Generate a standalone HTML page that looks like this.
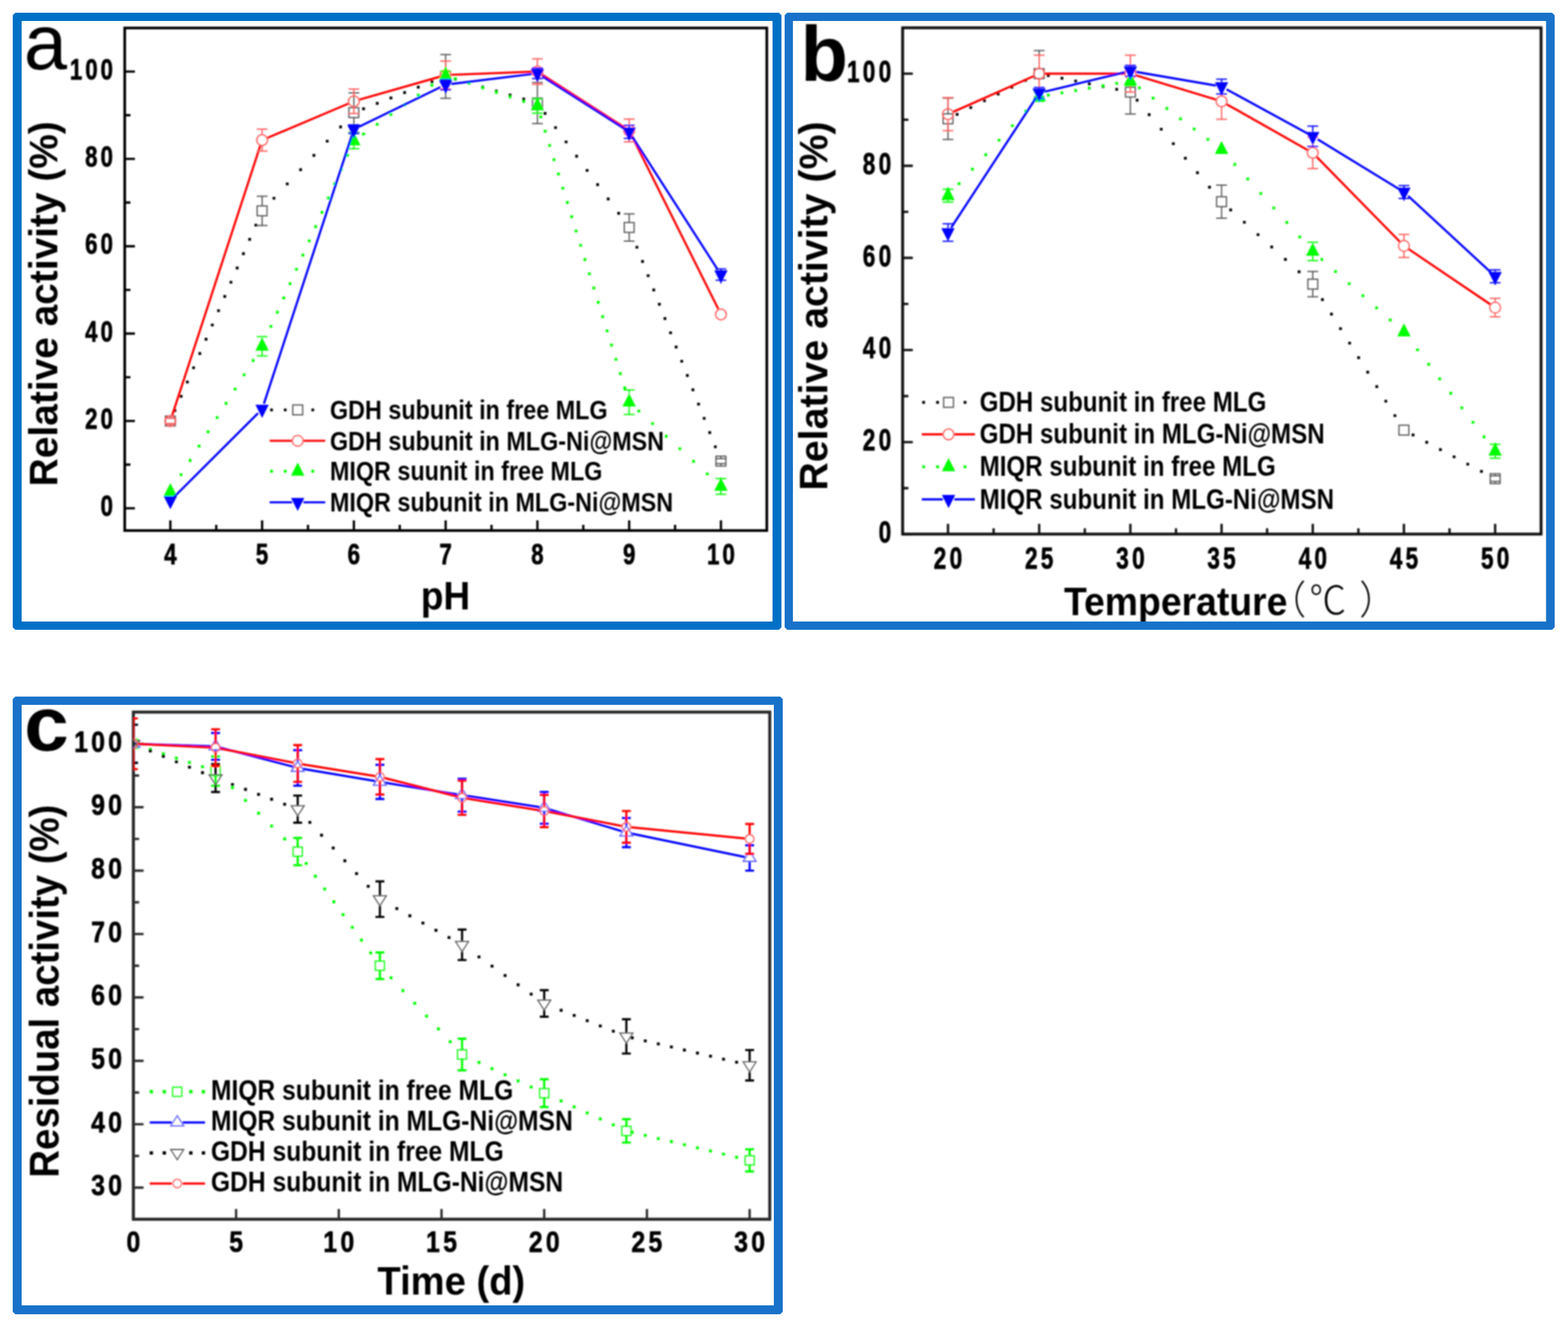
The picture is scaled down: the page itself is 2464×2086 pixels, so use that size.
<!DOCTYPE html>
<html lang="en"><head><meta charset="utf-8"><title>Relative and residual activity of MLG and MLG-Ni@MSN</title>
<style>html,body{margin:0;padding:0;background:#fff}svg{display:block}text{font-family:"Liberation Sans", "Noto Sans CJK SC", sans-serif;fill:#000}</style></head><body>
<svg xmlns="http://www.w3.org/2000/svg" width="2464" height="2086" viewBox="0 0 2464 2086">
<rect width="2464" height="2086" fill="#fff"/>
<defs><filter id="soft" filterUnits="userSpaceOnUse" x="0" y="0" width="2464" height="2086"><feGaussianBlur stdDeviation="0.8"/></filter></defs>
<g filter="url(#soft)">
<text transform="translate(182.2 811.2) scale(1 1.335)" font-size="35" font-weight="bold" text-anchor="end" letter-spacing="4.7" stroke="#000" stroke-width="0.8" stroke-linejoin="round">0</text>
<text transform="translate(182.2 673.9) scale(1 1.335)" font-size="35" font-weight="bold" text-anchor="end" letter-spacing="4.7" stroke="#000" stroke-width="0.8" stroke-linejoin="round">20</text>
<text transform="translate(182.2 536.6) scale(1 1.335)" font-size="35" font-weight="bold" text-anchor="end" letter-spacing="4.7" stroke="#000" stroke-width="0.8" stroke-linejoin="round">40</text>
<text transform="translate(182.2 399.3) scale(1 1.335)" font-size="35" font-weight="bold" text-anchor="end" letter-spacing="4.7" stroke="#000" stroke-width="0.8" stroke-linejoin="round">60</text>
<text transform="translate(182.2 262) scale(1 1.335)" font-size="35" font-weight="bold" text-anchor="end" letter-spacing="4.7" stroke="#000" stroke-width="0.8" stroke-linejoin="round">80</text>
<text transform="translate(182.2 124.7) scale(1 1.335)" font-size="35" font-weight="bold" text-anchor="end" letter-spacing="4.7" stroke="#000" stroke-width="0.8" stroke-linejoin="round">100</text>
<text transform="translate(270.1 887) scale(1 1.335)" font-size="35" font-weight="bold" text-anchor="middle" letter-spacing="4.7" stroke="#000" stroke-width="0.8" stroke-linejoin="round">4</text>
<text transform="translate(414.2 887) scale(1 1.335)" font-size="35" font-weight="bold" text-anchor="middle" letter-spacing="4.7" stroke="#000" stroke-width="0.8" stroke-linejoin="round">5</text>
<text transform="translate(558.4 887) scale(1 1.335)" font-size="35" font-weight="bold" text-anchor="middle" letter-spacing="4.7" stroke="#000" stroke-width="0.8" stroke-linejoin="round">6</text>
<text transform="translate(702.6 887) scale(1 1.335)" font-size="35" font-weight="bold" text-anchor="middle" letter-spacing="4.7" stroke="#000" stroke-width="0.8" stroke-linejoin="round">7</text>
<text transform="translate(846.9 887) scale(1 1.335)" font-size="35" font-weight="bold" text-anchor="middle" letter-spacing="4.7" stroke="#000" stroke-width="0.8" stroke-linejoin="round">8</text>
<text transform="translate(991.1 887) scale(1 1.335)" font-size="35" font-weight="bold" text-anchor="middle" letter-spacing="4.7" stroke="#000" stroke-width="0.8" stroke-linejoin="round">9</text>
<text transform="translate(1135.2 887) scale(1 1.335)" font-size="35" font-weight="bold" text-anchor="middle" letter-spacing="4.7" stroke="#000" stroke-width="0.8" stroke-linejoin="round">10</text>
<text transform="translate(518.5 659) scale(1 1.17)" font-size="36.7" font-weight="bold" text-anchor="start">GDH subunit in free MLG</text>
<text transform="translate(518.5 707.5) scale(1 1.17)" font-size="36.7" font-weight="bold" text-anchor="start">GDH subunit in MLG-Ni@MSN</text>
<text transform="translate(518.5 755.4) scale(1 1.17)" font-size="36.7" font-weight="bold" text-anchor="start">MIQR suunit in free MLG</text>
<text transform="translate(518.5 804.2) scale(1 1.17)" font-size="36.7" font-weight="bold" text-anchor="start">MIQR subunit in MLG-Ni@MSN</text>
<text transform="translate(89.8 477.5) rotate(-90) scale(1 1.02)" font-size="61.1" font-weight="bold" text-anchor="middle">Relative activity (%)</text>
<text transform="translate(700 958.3) scale(1 1.09)" font-size="58.3" font-weight="bold" text-anchor="middle">pH</text>
<text x="37.5" y="109" font-size="122" font-weight="normal" text-anchor="start">a</text>
<text transform="translate(1405.5 853) scale(1 1.353)" font-size="35.5" font-weight="bold" text-anchor="end" letter-spacing="5.1" stroke="#000" stroke-width="0.8" stroke-linejoin="round">0</text>
<text transform="translate(1405.5 708.2) scale(1 1.353)" font-size="35.5" font-weight="bold" text-anchor="end" letter-spacing="5.1" stroke="#000" stroke-width="0.8" stroke-linejoin="round">20</text>
<text transform="translate(1405.5 563.4) scale(1 1.353)" font-size="35.5" font-weight="bold" text-anchor="end" letter-spacing="5.1" stroke="#000" stroke-width="0.8" stroke-linejoin="round">40</text>
<text transform="translate(1405.5 418.6) scale(1 1.353)" font-size="35.5" font-weight="bold" text-anchor="end" letter-spacing="5.1" stroke="#000" stroke-width="0.8" stroke-linejoin="round">60</text>
<text transform="translate(1405.5 273.8) scale(1 1.353)" font-size="35.5" font-weight="bold" text-anchor="end" letter-spacing="5.1" stroke="#000" stroke-width="0.8" stroke-linejoin="round">80</text>
<text transform="translate(1405.5 129) scale(1 1.353)" font-size="35.5" font-weight="bold" text-anchor="end" letter-spacing="5.1" stroke="#000" stroke-width="0.8" stroke-linejoin="round">100</text>
<text transform="translate(1492.2 894) scale(1 1.353)" font-size="35.5" font-weight="bold" text-anchor="middle" letter-spacing="5.1" stroke="#000" stroke-width="0.8" stroke-linejoin="round">20</text>
<text transform="translate(1635.5 894) scale(1 1.353)" font-size="35.5" font-weight="bold" text-anchor="middle" letter-spacing="5.1" stroke="#000" stroke-width="0.8" stroke-linejoin="round">25</text>
<text transform="translate(1778.9 894) scale(1 1.353)" font-size="35.5" font-weight="bold" text-anchor="middle" letter-spacing="5.1" stroke="#000" stroke-width="0.8" stroke-linejoin="round">30</text>
<text transform="translate(1922.1 894) scale(1 1.353)" font-size="35.5" font-weight="bold" text-anchor="middle" letter-spacing="5.1" stroke="#000" stroke-width="0.8" stroke-linejoin="round">35</text>
<text transform="translate(2065.5 894) scale(1 1.353)" font-size="35.5" font-weight="bold" text-anchor="middle" letter-spacing="5.1" stroke="#000" stroke-width="0.8" stroke-linejoin="round">40</text>
<text transform="translate(2208.8 894) scale(1 1.353)" font-size="35.5" font-weight="bold" text-anchor="middle" letter-spacing="5.1" stroke="#000" stroke-width="0.8" stroke-linejoin="round">45</text>
<text transform="translate(2352.1 894) scale(1 1.353)" font-size="35.5" font-weight="bold" text-anchor="middle" letter-spacing="5.1" stroke="#000" stroke-width="0.8" stroke-linejoin="round">50</text>
<text transform="translate(1539.5 647.1) scale(1 1.17)" font-size="37.9" font-weight="bold" text-anchor="start">GDH subunit in free MLG</text>
<text transform="translate(1539.5 697.4) scale(1 1.17)" font-size="37.9" font-weight="bold" text-anchor="start">GDH subunit in MLG-Ni@MSN</text>
<text transform="translate(1539.5 748.4) scale(1 1.17)" font-size="37.9" font-weight="bold" text-anchor="start">MIQR subunit in free MLG</text>
<text transform="translate(1539.5 799.6) scale(1 1.17)" font-size="37.9" font-weight="bold" text-anchor="start">MIQR subunit in MLG-Ni@MSN</text>
<text transform="translate(1299.7 481) rotate(-90) scale(1 1.02)" font-size="61.8" font-weight="bold" text-anchor="middle">Relative activity (%)</text>
<text transform="translate(1672 967) scale(1 1.07)" font-size="58.7" font-weight="bold" text-anchor="start">Temperature</text>
<text transform="translate(1994.5 965.5) scale(1 1.07)" font-size="58" font-weight="300" font-family='"Liberation Sans", "Noto Sans CJK SC", sans-serif'>（<tspan dx="5">℃</tspan><tspan dx="4.5"> ）</tspan></text>
<text x="1258" y="127" font-size="122" font-weight="bold" text-anchor="start">b</text>
<text transform="translate(196.8 1879.2) scale(1 1.206)" font-size="39" font-weight="bold" text-anchor="end" letter-spacing="5.1" stroke="#000" stroke-width="0.8" stroke-linejoin="round">30</text>
<text transform="translate(196.8 1779.5) scale(1 1.206)" font-size="39" font-weight="bold" text-anchor="end" letter-spacing="5.1" stroke="#000" stroke-width="0.8" stroke-linejoin="round">40</text>
<text transform="translate(196.8 1679.9) scale(1 1.206)" font-size="39" font-weight="bold" text-anchor="end" letter-spacing="5.1" stroke="#000" stroke-width="0.8" stroke-linejoin="round">50</text>
<text transform="translate(196.8 1580.2) scale(1 1.206)" font-size="39" font-weight="bold" text-anchor="end" letter-spacing="5.1" stroke="#000" stroke-width="0.8" stroke-linejoin="round">60</text>
<text transform="translate(196.8 1480.6) scale(1 1.206)" font-size="39" font-weight="bold" text-anchor="end" letter-spacing="5.1" stroke="#000" stroke-width="0.8" stroke-linejoin="round">70</text>
<text transform="translate(196.8 1380.9) scale(1 1.206)" font-size="39" font-weight="bold" text-anchor="end" letter-spacing="5.1" stroke="#000" stroke-width="0.8" stroke-linejoin="round">80</text>
<text transform="translate(196.8 1281.2) scale(1 1.206)" font-size="39" font-weight="bold" text-anchor="end" letter-spacing="5.1" stroke="#000" stroke-width="0.8" stroke-linejoin="round">90</text>
<text transform="translate(196.8 1181.6) scale(1 1.206)" font-size="39" font-weight="bold" text-anchor="end" letter-spacing="5.1" stroke="#000" stroke-width="0.8" stroke-linejoin="round">100</text>
<text transform="translate(212.2 1967.5) scale(1 1.206)" font-size="39" font-weight="bold" text-anchor="middle" letter-spacing="5.1" stroke="#000" stroke-width="0.8" stroke-linejoin="round">0</text>
<text transform="translate(373.6 1967.5) scale(1 1.206)" font-size="39" font-weight="bold" text-anchor="middle" letter-spacing="5.1" stroke="#000" stroke-width="0.8" stroke-linejoin="round">5</text>
<text transform="translate(534.9 1967.5) scale(1 1.206)" font-size="39" font-weight="bold" text-anchor="middle" letter-spacing="5.1" stroke="#000" stroke-width="0.8" stroke-linejoin="round">10</text>
<text transform="translate(696.4 1967.5) scale(1 1.206)" font-size="39" font-weight="bold" text-anchor="middle" letter-spacing="5.1" stroke="#000" stroke-width="0.8" stroke-linejoin="round">15</text>
<text transform="translate(857.8 1967.5) scale(1 1.206)" font-size="39" font-weight="bold" text-anchor="middle" letter-spacing="5.1" stroke="#000" stroke-width="0.8" stroke-linejoin="round">20</text>
<text transform="translate(1019.1 1967.5) scale(1 1.206)" font-size="39" font-weight="bold" text-anchor="middle" letter-spacing="5.1" stroke="#000" stroke-width="0.8" stroke-linejoin="round">25</text>
<text transform="translate(1180.5 1967.5) scale(1 1.206)" font-size="39" font-weight="bold" text-anchor="middle" letter-spacing="5.1" stroke="#000" stroke-width="0.8" stroke-linejoin="round">30</text>
<text transform="translate(331.5 1728.6) scale(1 1.17)" font-size="38.7" font-weight="bold" text-anchor="start">MIQR subunit in free MLG</text>
<text transform="translate(331.5 1776.9) scale(1 1.17)" font-size="38.7" font-weight="bold" text-anchor="start">MIQR subunit in MLG-Ni@MSN</text>
<text transform="translate(331.5 1824.7) scale(1 1.17)" font-size="38.7" font-weight="bold" text-anchor="start">GDH subunit in free MLG</text>
<text transform="translate(331.5 1872.8) scale(1 1.17)" font-size="38.7" font-weight="bold" text-anchor="start">GDH subunit in MLG-Ni@MSN</text>
<text transform="translate(91.6 1558) rotate(-90) scale(1 1.07)" font-size="60.3" font-weight="bold" text-anchor="middle">Residual activity (%)</text>
<text transform="translate(709.2 2035.3) scale(1 1.05)" font-size="60" font-weight="bold" text-anchor="middle">Time (d)</text>
<text transform="translate(38 1179.5) scale(1 0.95)" font-size="126" font-weight="bold" text-anchor="start">c</text>
<path d="M196 799h16M196 661.7h16M196 524.4h16M196 387.1h16M196 249.8h16M196 112.5h16M196 730.4h9M196 593h9M196 455.8h9M196 318.4h9M196 181.1h9M267.7 834v-16M411.9 834v-16M556.1 834v-16M700.3 834v-16M844.5 834v-16M988.7 834v-16M1132.9 834v-16M339.8 834v-9M484 834v-9M628.2 834v-9M772.4 834v-9M916.6 834v-9M1060.8 834v-9" fill="none" stroke="#000" stroke-width="3.6"/>
<rect x="196" y="44" width="1009" height="790" fill="none" stroke="#000" stroke-width="4.2"/>
<clipPath id="clipa"><rect x="196" y="44" width="1009" height="790"/></clipPath>
<g clip-path="url(#clipa)">
<path d="M272.6 643.2h4.4v4.4h-4.4zM282.4 620.8h4.4v4.4h-4.4zM292.2 598.3h4.4v4.4h-4.4zM302 575.9h4.4v4.4h-4.4zM311.8 553.5h4.4v4.4h-4.4zM321.6 531.1h4.4v4.4h-4.4zM331.4 508.7h4.4v4.4h-4.4zM341.2 486.2h4.4v4.4h-4.4zM351 463.8h4.4v4.4h-4.4zM360.7 441.4h4.4v4.4h-4.4zM370.5 419h4.4v4.4h-4.4zM380.3 396.6h4.4v4.4h-4.4zM390.1 374.1h4.4v4.4h-4.4zM399.9 351.7h4.4v4.4h-4.4zM428.3 309.4h4.4v4.4h-4.4zM449.2 286.9h4.4v4.4h-4.4zM470.2 264.5h4.4v4.4h-4.4zM491.1 242.1h4.4v4.4h-4.4zM512 219.7h4.4v4.4h-4.4zM533 197.3h4.4v4.4h-4.4zM569.1 168.8h4.4v4.4h-4.4zM590.6 160.3h4.4v4.4h-4.4zM612.1 151.8h4.4v4.4h-4.4zM633.6 143.3h4.4v4.4h-4.4zM655.1 134.8h4.4v4.4h-4.4zM676.6 126.3h4.4v4.4h-4.4zM713.3 122.3h4.4v4.4h-4.4zM734.8 128.5h4.4v4.4h-4.4zM756.3 134.8h4.4v4.4h-4.4zM777.8 141h4.4v4.4h-4.4zM799.3 147.2h4.4v4.4h-4.4zM820.8 153.5h4.4v4.4h-4.4zM854.3 176h4.4v4.4h-4.4zM870.8 198.4h4.4v4.4h-4.4zM887.4 220.9h4.4v4.4h-4.4zM903.9 243.3h4.4v4.4h-4.4zM920.4 265.7h4.4v4.4h-4.4zM936.9 288.1h4.4v4.4h-4.4zM953.5 310.5h4.4v4.4h-4.4zM970 333h4.4v4.4h-4.4zM998.7 386.4h4.4v4.4h-4.4zM1007.5 408.8h4.4v4.4h-4.4zM1016.3 431.2h4.4v4.4h-4.4zM1025.1 453.6h4.4v4.4h-4.4zM1033.9 476h4.4v4.4h-4.4zM1042.7 498.5h4.4v4.4h-4.4zM1051.5 520.9h4.4v4.4h-4.4zM1060.3 543.3h4.4v4.4h-4.4zM1069.1 565.7h4.4v4.4h-4.4zM1077.9 588.1h4.4v4.4h-4.4zM1086.7 610.6h4.4v4.4h-4.4zM1095.5 633h4.4v4.4h-4.4zM1104.3 655.4h4.4v4.4h-4.4zM1113.1 677.8h4.4v4.4h-4.4zM1121.9 700.2h4.4v4.4h-4.4z" fill="#000000"/>
<path d="M259.2 656.9H276.2M259.2 666.5H276.2M267.7 656.9V654M267.7 669.5V666.5" fill="none" stroke="#5a5a5a" stroke-width="2.0"/>
<path d="M403.4 308.5H420.4M403.4 354.5H420.4M411.9 308.5V323.7M411.9 339.2V354.5" fill="none" stroke="#5a5a5a" stroke-width="2.0"/>
<path d="M547.6 146.1H564.6M547.6 207.9H564.6M556.1 146.1V169.3M556.1 184.8V207.9" fill="none" stroke="#5a5a5a" stroke-width="2.0"/>
<path d="M691.8 85.7H708.8M691.8 154.4H708.8M700.3 85.7V112.3M700.3 127.8V154.4" fill="none" stroke="#5a5a5a" stroke-width="2.0"/>
<path d="M836 129.7H853M836 194.2H853M844.5 129.7V154.2M844.5 169.7V194.2" fill="none" stroke="#5a5a5a" stroke-width="2.0"/>
<path d="M980.2 336.3H997.2M980.2 378.9H997.2M988.7 336.3V349.8M988.7 365.3V378.9" fill="none" stroke="#5a5a5a" stroke-width="2.0"/>
<path d="M1124.4 720.9H1141.4M1124.4 728.8H1141.4M1132.9 720.9V717.1M1132.9 732.6V728.8" fill="none" stroke="#5a5a5a" stroke-width="2.0"/>
<rect x="259.9" y="654" width="15.5" height="15.5" fill="none" stroke="#5a5a5a" stroke-width="2.0"/>
<rect x="404.1" y="323.7" width="15.5" height="15.5" fill="none" stroke="#5a5a5a" stroke-width="2.0"/>
<rect x="548.3" y="169.3" width="15.5" height="15.5" fill="none" stroke="#5a5a5a" stroke-width="2.0"/>
<rect x="692.5" y="112.3" width="15.5" height="15.5" fill="none" stroke="#5a5a5a" stroke-width="2.0"/>
<rect x="836.8" y="154.2" width="15.5" height="15.5" fill="none" stroke="#5a5a5a" stroke-width="2.0"/>
<rect x="981" y="349.8" width="15.5" height="15.5" fill="none" stroke="#5a5a5a" stroke-width="2.0"/>
<rect x="1125.1" y="717.1" width="15.5" height="15.5" fill="none" stroke="#5a5a5a" stroke-width="2.0"/>
<path d="M270.5 653.1L409.1 228.8M420.2 216.8L547.8 162.7M564.8 156.7L691.6 120.5M709.3 117.6L835.5 112.8M852.1 117.4L981.1 200.3M992.7 213.2L1128.9 486.1" fill="none" stroke="#ff0000" stroke-width="3.4" stroke-linecap="butt"/>
<path d="M259.2 657.6H276.2M259.2 665.8H276.2M267.7 657.6V653.2M267.7 670.2V665.8" fill="none" stroke="#ff5a5a" stroke-width="2.0"/>
<path d="M403.4 203.1H420.4M403.4 237.4H420.4M411.9 203.1V211.8M411.9 228.8V237.4" fill="none" stroke="#ff5a5a" stroke-width="2.0"/>
<path d="M547.6 140H564.6M547.6 178.4H564.6M556.1 140V150.7M556.1 167.7V178.4" fill="none" stroke="#ff5a5a" stroke-width="2.0"/>
<path d="M691.8 96H708.8M691.8 140H708.8M700.3 96V109.5M700.3 126.5V140" fill="none" stroke="#ff5a5a" stroke-width="2.0"/>
<path d="M836 92.6H853M836 132.4H853M844.5 92.6V104M844.5 121V132.4" fill="none" stroke="#ff5a5a" stroke-width="2.0"/>
<path d="M980.2 187.3H997.2M980.2 223H997.2M988.7 187.3V196.7M988.7 213.7V223" fill="none" stroke="#ff5a5a" stroke-width="2.0"/>
<circle cx="267.7" cy="661.7" r="8.5" fill="none" stroke="#ff5a5a" stroke-width="2.0"/>
<circle cx="411.9" cy="220.3" r="8.5" fill="none" stroke="#ff5a5a" stroke-width="2.0"/>
<circle cx="556.1" cy="159.2" r="8.5" fill="none" stroke="#ff5a5a" stroke-width="2.0"/>
<circle cx="700.3" cy="118" r="8.5" fill="none" stroke="#ff5a5a" stroke-width="2.0"/>
<circle cx="844.5" cy="112.5" r="8.5" fill="none" stroke="#ff5a5a" stroke-width="2.0"/>
<circle cx="988.7" cy="205.2" r="8.5" fill="none" stroke="#ff5a5a" stroke-width="2.0"/>
<circle cx="1132.9" cy="494.2" r="8.5" fill="none" stroke="#ff5a5a" stroke-width="2.0"/>
<path d="M282.4 743.9h4.4v4.4h-4.4zM296.6 721.5h4.4v4.4h-4.4zM310.7 699h4.4v4.4h-4.4zM324.8 676.6h4.4v4.4h-4.4zM339 654.2h4.4v4.4h-4.4zM353.1 631.8h4.4v4.4h-4.4zM367.3 609.4h4.4v4.4h-4.4zM381.4 586.9h4.4v4.4h-4.4zM395.6 564.5h4.4v4.4h-4.4zM423.6 510.9h4.4v4.4h-4.4zM433.7 488.5h4.4v4.4h-4.4zM443.7 466.1h4.4v4.4h-4.4zM453.7 443.7h4.4v4.4h-4.4zM463.7 421.2h4.4v4.4h-4.4zM473.7 398.8h4.4v4.4h-4.4zM483.8 376.4h4.4v4.4h-4.4zM493.8 354h4.4v4.4h-4.4zM503.8 331.6h4.4v4.4h-4.4zM513.8 309.1h4.4v4.4h-4.4zM523.8 286.7h4.4v4.4h-4.4zM533.9 264.3h4.4v4.4h-4.4zM543.9 241.9h4.4v4.4h-4.4zM569.1 208.6h4.4v4.4h-4.4zM590.6 193.2h4.4v4.4h-4.4zM612.1 177.9h4.4v4.4h-4.4zM633.6 162.5h4.4v4.4h-4.4zM655.1 147.2h4.4v4.4h-4.4zM676.6 131.8h4.4v4.4h-4.4zM713.3 121.5h4.4v4.4h-4.4zM734.8 128.7h4.4v4.4h-4.4zM756.3 135.9h4.4v4.4h-4.4zM777.8 143h4.4v4.4h-4.4zM799.3 150.2h4.4v4.4h-4.4zM820.8 157.4h4.4v4.4h-4.4zM847.6 181.6h4.4v4.4h-4.4zM854.5 204h4.4v4.4h-4.4zM861.5 226.4h4.4v4.4h-4.4zM868.4 248.8h4.4v4.4h-4.4zM875.4 271.3h4.4v4.4h-4.4zM882.3 293.7h4.4v4.4h-4.4zM889.3 316.1h4.4v4.4h-4.4zM896.2 338.5h4.4v4.4h-4.4zM903.1 360.9h4.4v4.4h-4.4zM910.1 383.4h4.4v4.4h-4.4zM917 405.8h4.4v4.4h-4.4zM924 428.2h4.4v4.4h-4.4zM930.9 450.6h4.4v4.4h-4.4zM937.9 473h4.4v4.4h-4.4zM944.8 495.5h4.4v4.4h-4.4zM951.8 517.9h4.4v4.4h-4.4zM958.7 540.3h4.4v4.4h-4.4zM965.7 562.7h4.4v4.4h-4.4zM972.6 585.1h4.4v4.4h-4.4zM979.6 607.6h4.4v4.4h-4.4zM1001.7 643.9h4.4v4.4h-4.4zM1023.2 663.7h4.4v4.4h-4.4zM1044.7 683.5h4.4v4.4h-4.4zM1066.2 703.2h4.4v4.4h-4.4zM1087.7 723h4.4v4.4h-4.4zM1109.2 742.7h4.4v4.4h-4.4z" fill="#00ff00"/>
<path d="M403.4 529.2H420.4M403.4 559.4H420.4M411.9 529.2V530.6M411.9 551.2V559.4" fill="none" stroke="#00ff00" stroke-width="2.0"/>
<path d="M547.6 209.6H564.6M547.6 233.7H564.6M556.1 209.6V207.9M556.1 228.5V233.7" fill="none" stroke="#00ff00" stroke-width="2.0"/>
<path d="M691.8 111.8H708.8M691.8 125.5H708.8M700.3 111.8V105" fill="none" stroke="#00ff00" stroke-width="2.0"/>
<path d="M836 155.4H853M836 178.1H853M844.5 155.4V153M844.5 173.6V178.1" fill="none" stroke="#00ff00" stroke-width="2.0"/>
<path d="M980.2 613H997.2M980.2 651.4H997.2M988.7 613V618.5M988.7 639V651.4" fill="none" stroke="#00ff00" stroke-width="2.0"/>
<path d="M1124.4 752.3H1141.4M1124.4 777H1141.4M1132.9 752.3V751M1132.9 771.5V777" fill="none" stroke="#00ff00" stroke-width="2.0"/>
<polygon points="267.7,759.2 278.2,779.8 257.2,779.8" fill="#00ff00"/>
<polygon points="411.9,530.6 422.4,551.2 401.4,551.2" fill="#00ff00"/>
<polygon points="556.1,207.9 566.6,228.5 545.6,228.5" fill="#00ff00"/>
<polygon points="700.3,105 710.8,125.5 689.8,125.5" fill="#00ff00"/>
<polygon points="844.5,153 855,173.6 834,173.6" fill="#00ff00"/>
<polygon points="988.7,618.5 999.2,639 978.2,639" fill="#00ff00"/>
<polygon points="1132.9,751 1143.4,771.5 1122.4,771.5" fill="#00ff00"/>
<path d="M274.1 780.6L405.5 649.5M414.7 634.6L553.3 211.7M564.2 199.2L692.2 137M709.2 132L835.6 116.4M852.1 120.1L981.1 202.4M993.6 214.8L1128 424.2" fill="none" stroke="#0000ff" stroke-width="3.4" stroke-linecap="butt"/>
<path d="M547.6 196.3H564.6M547.6 210H564.6M556.1 216.8V210" fill="none" stroke="#0000ff" stroke-width="2.0"/>
<path d="M691.8 124.9H708.8M691.8 141.3H708.8M700.3 124.9V126.2M700.3 146.8V141.3" fill="none" stroke="#0000ff" stroke-width="2.0"/>
<path d="M836 107H853M836 123.5H853M844.5 107V108.4M844.5 129V123.5" fill="none" stroke="#0000ff" stroke-width="2.0"/>
<path d="M980.2 196.9H997.2M980.2 217.5H997.2M988.7 196.9V200.4M988.7 221V217.5" fill="none" stroke="#0000ff" stroke-width="2.0"/>
<path d="M1124.4 422.8H1141.4M1124.4 440.6H1141.4M1132.9 422.8V424.9M1132.9 445.4V440.6" fill="none" stroke="#0000ff" stroke-width="2.0"/>
<polygon points="267.7,800.6 278.2,780.1 257.2,780.1" fill="#0000ff"/>
<polygon points="411.9,656.9 422.4,636.3 401.4,636.3" fill="#0000ff"/>
<polygon points="556.1,216.8 566.6,196.3 545.6,196.3" fill="#0000ff"/>
<polygon points="700.3,146.8 710.8,126.2 689.8,126.2" fill="#0000ff"/>
<polygon points="844.5,129 855,108.4 834,108.4" fill="#0000ff"/>
<polygon points="988.7,221 999.2,200.4 978.2,200.4" fill="#0000ff"/>
<polygon points="1132.9,445.4 1143.4,424.9 1122.4,424.9" fill="#0000ff"/>
</g>
<path d="M424.5 642.2h4.4v4.4h-4.4zM446 642.2h4.4v4.4h-4.4zM489.3 642.2h4.4v4.4h-4.4z" fill="#000000"/>
<rect x="460.1" y="636.6" width="15.5" height="15.5" fill="none" stroke="#5a5a5a" stroke-width="2.0"/>
<path d="M423.7 692.9H458.8M476.8 692.9H511.1" stroke="#ff0000" stroke-width="3.4" fill="none"/>
<circle cx="467.8" cy="692.9" r="8.5" fill="none" stroke="#ff5a5a" stroke-width="2.0"/>
<path d="M424.5 738.6h4.4v4.4h-4.4zM446 738.6h4.4v4.4h-4.4zM489.3 738.6h4.4v4.4h-4.4z" fill="#00ff00"/>
<polygon points="467.8,727.1 478.3,747.7 457.3,747.7" fill="#00ff00"/>
<path d="M423.7 789.6H458.8M476.8 789.6H511.1" stroke="#0000ff" stroke-width="3.4" fill="none"/>
<polygon points="467.8,803.3 478.3,782.7 457.3,782.7" fill="#0000ff"/>
<path d="M1418.4 839.8h16M1418.4 695h16M1418.4 550.2h16M1418.4 405.4h16M1418.4 260.6h16M1418.4 115.8h16M1418.4 767.4h9M1418.4 622.6h9M1418.4 477.8h9M1418.4 333h9M1418.4 188.2h9M1489.7 839.6v-16M1633 839.6v-16M1776.3 839.6v-16M1919.6 839.6v-16M2062.9 839.6v-16M2206.2 839.6v-16M2349.5 839.6v-16M1561.4 839.6v-9M1704.7 839.6v-9M1848 839.6v-9M1991.2 839.6v-9M2134.6 839.6v-9M2277.8 839.6v-9" fill="none" stroke="#0a0a0a" stroke-width="3.6"/>
<rect x="1418.4" y="43.7" width="1003.3" height="795.9" fill="none" stroke="#0a0a0a" stroke-width="4.4"/>
<clipPath id="clipb"><rect x="1418.4" y="43.7" width="1003.3" height="795.9"/></clipPath>
<g clip-path="url(#clipb)">
<path d="M1501.8 177.5h4.4v4.4h-4.4zM1523.3 166.8h4.4v4.4h-4.4zM1544.8 156.2h4.4v4.4h-4.4zM1566.3 145.5h4.4v4.4h-4.4zM1587.8 134.9h4.4v4.4h-4.4zM1609.3 124.2h4.4v4.4h-4.4zM1645.1 116.5h4.4v4.4h-4.4zM1666.6 120.8h4.4v4.4h-4.4zM1688.1 125.2h4.4v4.4h-4.4zM1709.6 129.5h4.4v4.4h-4.4zM1731.1 133.9h4.4v4.4h-4.4zM1752.6 138.2h4.4v4.4h-4.4zM1784.7 155.3h4.4v4.4h-4.4zM1803.6 178.1h4.4v4.4h-4.4zM1822.6 200.9h4.4v4.4h-4.4zM1841.6 223.7h4.4v4.4h-4.4zM1860.5 246.5h4.4v4.4h-4.4zM1879.5 269.3h4.4v4.4h-4.4zM1898.4 292.1h4.4v4.4h-4.4zM1931.7 327.8h4.4v4.4h-4.4zM1953.2 347.2h4.4v4.4h-4.4zM1974.7 366.7h4.4v4.4h-4.4zM1996.2 386.1h4.4v4.4h-4.4zM2017.7 405.6h4.4v4.4h-4.4zM2039.2 425h4.4v4.4h-4.4zM2075.9 468.8h4.4v4.4h-4.4zM2090.1 491.6h4.4v4.4h-4.4zM2104.3 514.4h4.4v4.4h-4.4zM2118.6 537.2h4.4v4.4h-4.4zM2132.8 560h4.4v4.4h-4.4zM2147.1 582.8h4.4v4.4h-4.4zM2161.3 605.6h4.4v4.4h-4.4zM2175.5 628.4h4.4v4.4h-4.4zM2189.8 651.2h4.4v4.4h-4.4zM2218.3 681.6h4.4v4.4h-4.4zM2239.8 693h4.4v4.4h-4.4zM2261.3 704.5h4.4v4.4h-4.4zM2282.8 715.9h4.4v4.4h-4.4zM2304.3 727.4h4.4v4.4h-4.4zM2325.8 738.8h4.4v4.4h-4.4z" fill="#000000"/>
<path d="M1481.2 154.2H1498.2M1481.2 219.3H1498.2M1489.7 154.2V179M1489.7 194.5V219.3" fill="none" stroke="#5a5a5a" stroke-width="2.0"/>
<path d="M1624.5 79.6H1641.5M1624.5 152H1641.5M1633 79.6V108M1633 123.5V152" fill="none" stroke="#5a5a5a" stroke-width="2.0"/>
<path d="M1767.8 110.4H1784.8M1767.8 179.2H1784.8M1776.3 110.4V137M1776.3 152.5V179.2" fill="none" stroke="#5a5a5a" stroke-width="2.0"/>
<path d="M1911.1 291H1928.1M1911.1 343.1H1928.1M1919.6 291V309.3M1919.6 324.8V343.1" fill="none" stroke="#5a5a5a" stroke-width="2.0"/>
<path d="M2054.4 426.8H2071.4M2054.4 466.6H2071.4M2062.9 426.8V438.9M2062.9 454.4V466.6" fill="none" stroke="#5a5a5a" stroke-width="2.0"/>
<path d="M2341 748.1H2358M2341 756.8H2358M2349.5 748.1V744.7M2349.5 760.2V756.8" fill="none" stroke="#5a5a5a" stroke-width="2.0"/>
<rect x="1482" y="179" width="15.5" height="15.5" fill="none" stroke="#5a5a5a" stroke-width="2.0"/>
<rect x="1625.2" y="108" width="15.5" height="15.5" fill="none" stroke="#5a5a5a" stroke-width="2.0"/>
<rect x="1768.6" y="137" width="15.5" height="15.5" fill="none" stroke="#5a5a5a" stroke-width="2.0"/>
<rect x="1911.8" y="309.3" width="15.5" height="15.5" fill="none" stroke="#5a5a5a" stroke-width="2.0"/>
<rect x="2055.2" y="438.9" width="15.5" height="15.5" fill="none" stroke="#5a5a5a" stroke-width="2.0"/>
<rect x="2198.4" y="668.4" width="15.5" height="15.5" fill="none" stroke="#5a5a5a" stroke-width="2.0"/>
<rect x="2341.8" y="744.7" width="15.5" height="15.5" fill="none" stroke="#5a5a5a" stroke-width="2.0"/>
<path d="M1497.9 175.9L1624.8 119.5M1642 115.8L1767.3 115.8M1784.9 118.4L1911 156.6M1927.4 163.7L2055.1 235.9M2069.2 246.8L2199.9 380.1M2213.7 391.6L2342 478.5" fill="none" stroke="#ff0000" stroke-width="3.4" stroke-linecap="butt"/>
<path d="M1481.2 153.4H1498.2M1481.2 205.6H1498.2M1489.7 153.4V171M1489.7 188V205.6" fill="none" stroke="#ff5a5a" stroke-width="2.0"/>
<path d="M1624.5 86.8H1641.5M1624.5 144.8H1641.5M1633 86.8V107.3M1633 124.3V144.8" fill="none" stroke="#ff5a5a" stroke-width="2.0"/>
<path d="M1767.8 86.8H1784.8M1767.8 144.8H1784.8M1776.3 86.8V107.3M1776.3 124.3V144.8" fill="none" stroke="#ff5a5a" stroke-width="2.0"/>
<path d="M1911.1 131H1928.1M1911.1 187.5H1928.1M1919.6 131V150.7M1919.6 167.7V187.5" fill="none" stroke="#ff5a5a" stroke-width="2.0"/>
<path d="M2054.4 215.7H2071.4M2054.4 264.9H2071.4M2062.9 215.7V231.8M2062.9 248.8V264.9" fill="none" stroke="#ff5a5a" stroke-width="2.0"/>
<path d="M2197.7 368.5H2214.7M2197.7 404.7H2214.7M2206.2 368.5V378.1M2206.2 395.1V404.7" fill="none" stroke="#ff5a5a" stroke-width="2.0"/>
<path d="M2341 469.1H2358M2341 498.1H2358M2349.5 469.1V475.1M2349.5 492.1V498.1" fill="none" stroke="#ff5a5a" stroke-width="2.0"/>
<circle cx="1489.7" cy="179.5" r="8.5" fill="none" stroke="#ff5a5a" stroke-width="2.0"/>
<circle cx="1633" cy="115.8" r="8.5" fill="none" stroke="#ff5a5a" stroke-width="2.0"/>
<circle cx="1776.3" cy="115.8" r="8.5" fill="none" stroke="#ff5a5a" stroke-width="2.0"/>
<circle cx="1919.6" cy="159.2" r="8.5" fill="none" stroke="#ff5a5a" stroke-width="2.0"/>
<circle cx="2062.9" cy="240.3" r="8.5" fill="none" stroke="#ff5a5a" stroke-width="2.0"/>
<circle cx="2206.2" cy="386.6" r="8.5" fill="none" stroke="#ff5a5a" stroke-width="2.0"/>
<circle cx="2349.5" cy="483.6" r="8.5" fill="none" stroke="#ff5a5a" stroke-width="2.0"/>
<path d="M1504.9 286.6h4.4v4.4h-4.4zM1525.9 263.8h4.4v4.4h-4.4zM1546.8 241h4.4v4.4h-4.4zM1567.8 218.2h4.4v4.4h-4.4zM1588.8 195.4h4.4v4.4h-4.4zM1609.8 172.6h4.4v4.4h-4.4zM1645.1 147.3h4.4v4.4h-4.4zM1666.6 143.7h4.4v4.4h-4.4zM1688.1 140h4.4v4.4h-4.4zM1709.6 136.3h4.4v4.4h-4.4zM1731.1 132.6h4.4v4.4h-4.4zM1752.6 128.9h4.4v4.4h-4.4zM1788.4 135.9h4.4v4.4h-4.4zM1809.9 152.1h4.4v4.4h-4.4zM1831.4 168.3h4.4v4.4h-4.4zM1852.9 184.5h4.4v4.4h-4.4zM1874.4 200.7h4.4v4.4h-4.4zM1895.9 216.9h4.4v4.4h-4.4zM1938.2 256.3h4.4v4.4h-4.4zM1958.6 279.1h4.4v4.4h-4.4zM1979 301.9h4.4v4.4h-4.4zM1999.4 324.7h4.4v4.4h-4.4zM2019.9 347.5h4.4v4.4h-4.4zM2040.3 370.3h4.4v4.4h-4.4zM2075 405.7h4.4v4.4h-4.4zM2096.5 424.7h4.4v4.4h-4.4zM2118 443.7h4.4v4.4h-4.4zM2139.5 462.7h4.4v4.4h-4.4zM2161 481.7h4.4v4.4h-4.4zM2182.5 500.8h4.4v4.4h-4.4zM2225.3 547.7h4.4v4.4h-4.4zM2242.8 570.5h4.4v4.4h-4.4zM2260.2 593.3h4.4v4.4h-4.4zM2277.6 616.1h4.4v4.4h-4.4zM2295 638.9h4.4v4.4h-4.4zM2312.5 661.7h4.4v4.4h-4.4zM2329.9 684.5h4.4v4.4h-4.4z" fill="#00ff00"/>
<path d="M1481.2 297.5H1498.2M1481.2 317.8H1498.2M1489.7 297.5V293.9M1489.7 314.5V317.8" fill="none" stroke="#00ff00" stroke-width="2.0"/>
<path d="M1624.5 144.8H1641.5M1624.5 159.2H1641.5M1633 144.8V138.3" fill="none" stroke="#00ff00" stroke-width="2.0"/>
<path d="M1767.8 120.1H1784.8M1767.8 134.6H1784.8M1776.3 120.1V113.7" fill="none" stroke="#00ff00" stroke-width="2.0"/>
<path d="M2054.4 380.8H2071.4M2054.4 409.7H2071.4M2062.9 380.8V381.5M2062.9 402.1V409.7" fill="none" stroke="#00ff00" stroke-width="2.0"/>
<path d="M2341 698.6H2358M2341 720.3H2358M2349.5 698.6V695.8M2349.5 716.3V720.3" fill="none" stroke="#00ff00" stroke-width="2.0"/>
<polygon points="1489.7,293.9 1500.2,314.5 1479.2,314.5" fill="#00ff00"/>
<polygon points="1633,138.3 1643.5,158.9 1622.5,158.9" fill="#00ff00"/>
<polygon points="1776.3,113.7 1786.8,134.2 1765.8,134.2" fill="#00ff00"/>
<polygon points="1919.6,221.5 1930.1,242.1 1909.1,242.1" fill="#00ff00"/>
<polygon points="2062.9,381.5 2073.4,402.1 2052.4,402.1" fill="#00ff00"/>
<polygon points="2206.2,508.2 2216.7,528.8 2195.7,528.8" fill="#00ff00"/>
<polygon points="2349.5,695.8 2360,716.3 2339,716.3" fill="#00ff00"/>
<path d="M1494.6 358L1628.1 153.7M1641.7 144.1L1767.6 113.6M1785.2 113L1910.7 134.5M1927.5 140.4L2055 210M2070.6 219L2198.5 297.2M2212.8 308L2342.9 428.3" fill="none" stroke="#0000ff" stroke-width="3.4" stroke-linecap="butt"/>
<path d="M1481.2 351.8H1498.2M1481.2 379.3H1498.2M1489.7 351.8V358.7" fill="none" stroke="#0000ff" stroke-width="2.0"/>
<path d="M1624.5 137.5H1641.5M1624.5 154.9H1641.5M1633 137.5V139.3M1633 159.9V154.9" fill="none" stroke="#0000ff" stroke-width="2.0"/>
<path d="M1767.8 102.8H1784.8M1767.8 120.1H1784.8M1776.3 102.8V104.6M1776.3 125.2V120.1" fill="none" stroke="#0000ff" stroke-width="2.0"/>
<path d="M1911.1 124.5H1928.1M1911.1 147.7H1928.1M1919.6 124.5V129.2M1919.6 149.8V147.7" fill="none" stroke="#0000ff" stroke-width="2.0"/>
<path d="M2054.4 198.3H2071.4M2054.4 230.2H2071.4M2062.9 198.3V207.4M2062.9 228V230.2" fill="none" stroke="#0000ff" stroke-width="2.0"/>
<path d="M2197.7 291.7H2214.7M2197.7 312H2214.7M2206.2 291.7V295M2206.2 315.6V312" fill="none" stroke="#0000ff" stroke-width="2.0"/>
<path d="M2341 424.2H2358M2341 444.5H2358M2349.5 424.2V427.5M2349.5 448.1V444.5" fill="none" stroke="#0000ff" stroke-width="2.0"/>
<polygon points="1489.7,379.3 1500.2,358.7 1479.2,358.7" fill="#0000ff"/>
<polygon points="1633,159.9 1643.5,139.3 1622.5,139.3" fill="#0000ff"/>
<polygon points="1776.3,125.2 1786.8,104.6 1765.8,104.6" fill="#0000ff"/>
<polygon points="1919.6,149.8 1930.1,129.2 1909.1,129.2" fill="#0000ff"/>
<polygon points="2062.9,228 2073.4,207.4 2052.4,207.4" fill="#0000ff"/>
<polygon points="2206.2,315.6 2216.7,295 2195.7,295" fill="#0000ff"/>
<polygon points="2349.5,448.1 2360,427.5 2339,427.5" fill="#0000ff"/>
</g>
<path d="M1449.2 630.3h4.4v4.4h-4.4zM1471.1 630.3h4.4v4.4h-4.4zM1514.3 630.3h4.4v4.4h-4.4z" fill="#000000"/>
<rect x="1482.8" y="624.8" width="15.5" height="15.5" fill="none" stroke="#5a5a5a" stroke-width="2.0"/>
<path d="M1448.5 682.8H1481.6M1499.6 682.8H1532" stroke="#ff0000" stroke-width="3.4" fill="none"/>
<circle cx="1490.6" cy="682.8" r="8.5" fill="none" stroke="#ff5a5a" stroke-width="2.0"/>
<path d="M1449.2 731.6h4.4v4.4h-4.4zM1471.1 731.6h4.4v4.4h-4.4zM1514.3 731.6h4.4v4.4h-4.4z" fill="#00ff00"/>
<polygon points="1490.6,720.1 1501.1,740.7 1480.1,740.7" fill="#00ff00"/>
<path d="M1448.5 785H1481.6M1499.6 785H1532" stroke="#0000ff" stroke-width="3.4" fill="none"/>
<polygon points="1490.6,798.7 1501.1,778.1 1480.1,778.1" fill="#0000ff"/>
<path d="M209.6 1866.9h16M209.6 1767.2h16M209.6 1667.6h16M209.6 1567.9h16M209.6 1468.3h16M209.6 1368.6h16M209.6 1268.9h16M209.6 1169.3h16M209.6 1817.1h9M209.6 1717.4h9M209.6 1617.8h9M209.6 1518.1h9M209.6 1418.4h9M209.6 1318.8h9M209.6 1219.1h9M209.6 1916.6v-16M371 1916.6v-16M532.4 1916.6v-16M693.8 1916.6v-16M855.2 1916.6v-16M1016.6 1916.6v-16M1178 1916.6v-16" fill="none" stroke="#2a2a2a" stroke-width="3.6"/>
<rect x="209.6" y="1119.4" width="1000" height="797.2" fill="none" stroke="#2a2a2a" stroke-width="4.8"/>
<clipPath id="clipc"><rect x="209.6" y="1119.4" width="1000" height="797.2"/></clipPath>
<g clip-path="url(#clipc)">
<path d="M233.9 1175.8h4.6v4.6h-4.6zM254.4 1182.6h4.6v4.6h-4.6zM274.9 1189.4h4.6v4.6h-4.6zM295.4 1196.2h4.6v4.6h-4.6zM315.9 1203h4.6v4.6h-4.6zM363 1235.9h4.6v4.6h-4.6zM383.5 1256h4.6v4.6h-4.6zM404 1276.1h4.6v4.6h-4.6zM424.5 1296.2h4.6v4.6h-4.6zM445 1316.3h4.6v4.6h-4.6zM478.9 1355h4.6v4.6h-4.6zM493.4 1375.1h4.6v4.6h-4.6zM507.9 1395.2h4.6v4.6h-4.6zM522.3 1415.3h4.6v4.6h-4.6zM536.8 1435.4h4.6v4.6h-4.6zM551.3 1455.5h4.6v4.6h-4.6zM565.7 1475.6h4.6v4.6h-4.6zM580.2 1495.7h4.6v4.6h-4.6zM612.2 1534.7h4.6v4.6h-4.6zM630.8 1554.8h4.6v4.6h-4.6zM649.4 1574.9h4.6v4.6h-4.6zM668 1595h4.6v4.6h-4.6zM686.6 1615.1h4.6v4.6h-4.6zM705.2 1635.2h4.6v4.6h-4.6zM750.4 1667.8h4.6v4.6h-4.6zM770.9 1677.5h4.6v4.6h-4.6zM791.4 1687.2h4.6v4.6h-4.6zM811.9 1696.8h4.6v4.6h-4.6zM832.4 1706.5h4.6v4.6h-4.6zM879.5 1728.3h4.6v4.6h-4.6zM900 1737.7h4.6v4.6h-4.6zM920.5 1747.2h4.6v4.6h-4.6zM941 1756.6h4.6v4.6h-4.6zM961.5 1766h4.6v4.6h-4.6zM991.2 1777.6h4.6v4.6h-4.6zM1011.7 1782.5h4.6v4.6h-4.6zM1032.2 1787.4h4.6v4.6h-4.6zM1052.7 1792.3h4.6v4.6h-4.6zM1073.2 1797.2h4.6v4.6h-4.6zM1093.7 1802.1h4.6v4.6h-4.6zM1114.2 1807h4.6v4.6h-4.6zM1134.7 1811.9h4.6v4.6h-4.6zM1155.2 1816.8h4.6v4.6h-4.6z" fill="#00ff00"/>
<path d="M202.6 1139.4H216.6M202.6 1199.2H216.6M209.6 1139.4V1162M209.6 1176.5V1199.2" fill="none" stroke="#00ff00" stroke-width="3.4"/>
<path d="M331.7 1189.2H345.7M331.7 1235.1H345.7M338.7 1189.2V1204.9M338.7 1219.4V1235.1" fill="none" stroke="#00ff00" stroke-width="3.4"/>
<path d="M460.8 1317.3H474.8M460.8 1360.1H474.8M467.8 1317.3V1331.5M467.8 1346V1360.1" fill="none" stroke="#00ff00" stroke-width="3.4"/>
<path d="M590 1497.2H604M590 1539H604M597 1497.2V1510.8M597 1525.3V1539" fill="none" stroke="#00ff00" stroke-width="3.4"/>
<path d="M719.1 1632.7H733.1M719.1 1682.5H733.1M726.1 1632.7V1650.4M726.1 1664.9V1682.5" fill="none" stroke="#00ff00" stroke-width="3.4"/>
<path d="M848.2 1696.5H862.2M848.2 1740.3H862.2M855.2 1696.5V1711.2M855.2 1725.7V1740.3" fill="none" stroke="#00ff00" stroke-width="3.4"/>
<path d="M977.3 1759.3H991.3M977.3 1796.1H991.3M984.3 1759.3V1770.5M984.3 1785V1796.1" fill="none" stroke="#00ff00" stroke-width="3.4"/>
<path d="M1171 1806.6H1185M1171 1841.5H1185M1178 1806.6V1816.8M1178 1831.3V1841.5" fill="none" stroke="#00ff00" stroke-width="3.4"/>
<rect x="202.3" y="1162" width="14.5" height="14.5" fill="none" stroke="#00ff00" stroke-width="1.8"/>
<rect x="331.5" y="1204.9" width="14.5" height="14.5" fill="none" stroke="#00ff00" stroke-width="1.8"/>
<rect x="460.6" y="1331.5" width="14.5" height="14.5" fill="none" stroke="#00ff00" stroke-width="1.8"/>
<rect x="589.7" y="1510.8" width="14.5" height="14.5" fill="none" stroke="#00ff00" stroke-width="1.8"/>
<rect x="718.8" y="1650.4" width="14.5" height="14.5" fill="none" stroke="#00ff00" stroke-width="1.8"/>
<rect x="848" y="1711.2" width="14.5" height="14.5" fill="none" stroke="#00ff00" stroke-width="1.8"/>
<rect x="977.1" y="1770.5" width="14.5" height="14.5" fill="none" stroke="#00ff00" stroke-width="1.8"/>
<rect x="1170.8" y="1816.8" width="14.5" height="14.5" fill="none" stroke="#00ff00" stroke-width="1.8"/>
<path d="M217.1 1169.5L331.2 1173M346 1175.2L460.6 1205.2M475.2 1208.4L589.6 1227.8M604.4 1230.3L718.7 1248.8M733.5 1251.1L847.8 1268.8M862.4 1272.1L977.1 1306.6M991.7 1310.3L1170.7 1347.2" fill="none" stroke="#0000ff" stroke-width="3.5" stroke-linecap="butt"/>
<path d="M202.6 1139.4H216.6M202.6 1199.2H216.6M209.6 1139.4V1158.6M209.6 1174.6V1199.2" fill="none" stroke="#0000ff" stroke-width="3.4"/>
<path d="M331.7 1152.3H345.7M331.7 1194.2H345.7M338.7 1152.3V1162.6M338.7 1178.6V1194.2" fill="none" stroke="#0000ff" stroke-width="3.4"/>
<path d="M460.8 1179.2H474.8M460.8 1235.1H474.8M467.8 1179.2V1196.5M467.8 1212.5V1235.1" fill="none" stroke="#0000ff" stroke-width="3.4"/>
<path d="M590 1202.2H604M590 1256H604M597 1202.2V1218.4M597 1234.4V1256" fill="none" stroke="#0000ff" stroke-width="3.4"/>
<path d="M719.1 1224.1H733.1M719.1 1275.9H733.1M726.1 1224.1V1239.3M726.1 1255.3V1275.9" fill="none" stroke="#0000ff" stroke-width="3.4"/>
<path d="M848.2 1245H862.2M848.2 1294.9H862.2M855.2 1245V1259.3M855.2 1275.3V1294.9" fill="none" stroke="#0000ff" stroke-width="3.4"/>
<path d="M977.3 1285.9H991.3M977.3 1331.7H991.3M984.3 1285.9V1298.1M984.3 1314.1V1331.7" fill="none" stroke="#0000ff" stroke-width="3.4"/>
<path d="M1171 1328.7H1185M1171 1368.6H1185M1178 1328.7V1338M1178 1354V1368.6" fill="none" stroke="#0000ff" stroke-width="3.4"/>
<polygon points="209.6,1158.6 219.8,1174.6 199.3,1174.6" fill="none" stroke="#5a5aff" stroke-width="1.8" stroke-linejoin="miter"/>
<polygon points="338.7,1162.6 349,1178.6 328.5,1178.6" fill="none" stroke="#5a5aff" stroke-width="1.8" stroke-linejoin="miter"/>
<polygon points="467.8,1196.5 478.1,1212.5 457.6,1212.5" fill="none" stroke="#5a5aff" stroke-width="1.8" stroke-linejoin="miter"/>
<polygon points="597,1218.4 607.2,1234.4 586.7,1234.4" fill="none" stroke="#5a5aff" stroke-width="1.8" stroke-linejoin="miter"/>
<polygon points="726.1,1239.3 736.3,1255.3 715.8,1255.3" fill="none" stroke="#5a5aff" stroke-width="1.8" stroke-linejoin="miter"/>
<polygon points="855.2,1259.3 865.5,1275.3 845,1275.3" fill="none" stroke="#5a5aff" stroke-width="1.8" stroke-linejoin="miter"/>
<polygon points="984.3,1298.1 994.6,1314.1 974.1,1314.1" fill="none" stroke="#5a5aff" stroke-width="1.8" stroke-linejoin="miter"/>
<polygon points="1178,1338 1188.2,1354 1167.8,1354" fill="none" stroke="#5a5aff" stroke-width="1.8" stroke-linejoin="miter"/>
<path d="M233.9 1178.1h4.6v4.6h-4.6zM254.4 1186.6h4.6v4.6h-4.6zM274.9 1195.2h4.6v4.6h-4.6zM295.4 1203.7h4.6v4.6h-4.6zM315.9 1212.3h4.6v4.6h-4.6zM363 1230.9h4.6v4.6h-4.6zM383.5 1238.6h4.6v4.6h-4.6zM404 1246.4h4.6v4.6h-4.6zM424.5 1254.1h4.6v4.6h-4.6zM445 1261.9h4.6v4.6h-4.6zM484.6 1290.5h4.6v4.6h-4.6zM503 1310.6h4.6v4.6h-4.6zM521.3 1330.7h4.6v4.6h-4.6zM539.6 1350.8h4.6v4.6h-4.6zM558 1370.9h4.6v4.6h-4.6zM576.3 1391h4.6v4.6h-4.6zM621.3 1425.9h4.6v4.6h-4.6zM641.8 1437.3h4.6v4.6h-4.6zM662.3 1448.7h4.6v4.6h-4.6zM682.8 1460.1h4.6v4.6h-4.6zM703.3 1471.5h4.6v4.6h-4.6zM750.4 1501.9h4.6v4.6h-4.6zM770.9 1516.5h4.6v4.6h-4.6zM791.4 1531.2h4.6v4.6h-4.6zM811.9 1545.8h4.6v4.6h-4.6zM832.4 1560.5h4.6v4.6h-4.6zM879.5 1585.8h4.6v4.6h-4.6zM900 1594h4.6v4.6h-4.6zM920.5 1602.2h4.6v4.6h-4.6zM941 1610.5h4.6v4.6h-4.6zM961.5 1618.7h4.6v4.6h-4.6zM991.2 1629.1h4.6v4.6h-4.6zM1011.7 1633.9h4.6v4.6h-4.6zM1032.2 1638.7h4.6v4.6h-4.6zM1052.7 1643.5h4.6v4.6h-4.6zM1073.2 1648.3h4.6v4.6h-4.6zM1093.7 1653.1h4.6v4.6h-4.6zM1114.2 1657.9h4.6v4.6h-4.6zM1134.7 1662.7h4.6v4.6h-4.6zM1155.2 1667.5h4.6v4.6h-4.6z" fill="#000000"/>
<path d="M202.6 1139.4H216.6M202.6 1199.2H216.6M209.6 1139.4V1164M209.6 1179.9V1199.2" fill="none" stroke="#000000" stroke-width="3.4"/>
<path d="M331.7 1201.2H345.7M331.7 1245H345.7M338.7 1201.2V1217.8M338.7 1233.8V1245" fill="none" stroke="#000000" stroke-width="3.4"/>
<path d="M460.8 1250.6H474.8M460.8 1293.3H474.8M467.8 1250.6V1266.6M467.8 1282.6V1293.3" fill="none" stroke="#000000" stroke-width="3.4"/>
<path d="M590 1385.5H604M590 1441.4H604M597 1385.5V1408.1M597 1424.1V1441.4" fill="none" stroke="#000000" stroke-width="3.4"/>
<path d="M719.1 1461.3H733.1M719.1 1509.1H733.1M726.1 1461.3V1479.9M726.1 1495.9V1509.1" fill="none" stroke="#000000" stroke-width="3.4"/>
<path d="M848.2 1556.5H862.2M848.2 1598.3H862.2M855.2 1556.5V1572.1M855.2 1588V1598.3" fill="none" stroke="#000000" stroke-width="3.4"/>
<path d="M977.3 1602.3H991.3M977.3 1656.1H991.3M984.3 1602.3V1623.9M984.3 1639.9V1656.1" fill="none" stroke="#000000" stroke-width="3.4"/>
<path d="M1171 1650.6H1185M1171 1698.5H1185M1178 1650.6V1669.2M1178 1685.2V1698.5" fill="none" stroke="#000000" stroke-width="3.4"/>
<polygon points="209.6,1179.9 219.8,1164 199.3,1164" fill="none" stroke="#5a5a5a" stroke-width="1.8" stroke-linejoin="miter"/>
<polygon points="338.7,1233.8 349,1217.8 328.5,1217.8" fill="none" stroke="#5a5a5a" stroke-width="1.8" stroke-linejoin="miter"/>
<polygon points="467.8,1282.6 478.1,1266.6 457.6,1266.6" fill="none" stroke="#5a5a5a" stroke-width="1.8" stroke-linejoin="miter"/>
<polygon points="597,1424.1 607.2,1408.1 586.7,1408.1" fill="none" stroke="#5a5a5a" stroke-width="1.8" stroke-linejoin="miter"/>
<polygon points="726.1,1495.9 736.3,1479.9 715.8,1479.9" fill="none" stroke="#5a5a5a" stroke-width="1.8" stroke-linejoin="miter"/>
<polygon points="855.2,1588 865.5,1572.1 845,1572.1" fill="none" stroke="#5a5a5a" stroke-width="1.8" stroke-linejoin="miter"/>
<polygon points="984.3,1639.9 994.6,1623.9 974.1,1623.9" fill="none" stroke="#5a5a5a" stroke-width="1.8" stroke-linejoin="miter"/>
<polygon points="1178,1685.2 1188.2,1669.2 1167.8,1669.2" fill="none" stroke="#5a5a5a" stroke-width="1.8" stroke-linejoin="miter"/>
<path d="M217.1 1169.6L331.2 1174.9M346.1 1176.7L460.5 1198.8M475.2 1201.4L589.6 1219.9M604.2 1223L718.8 1252.1M733.5 1255.2L847.8 1273.7M862.6 1276.3L977 1298.4M991.8 1300.6L1170.5 1318" fill="none" stroke="#ff0000" stroke-width="3.5" stroke-linecap="butt"/>
<path d="M202.6 1129.4H216.6M202.6 1209.1H216.6M209.6 1129.4V1162.5M209.6 1176V1209.1" fill="none" stroke="#ff0000" stroke-width="3.4"/>
<path d="M331.7 1146.4H345.7M331.7 1204.2H345.7M338.7 1146.4V1168.5M338.7 1182V1204.2" fill="none" stroke="#ff0000" stroke-width="3.4"/>
<path d="M460.8 1171.3H474.8M460.8 1229.1H474.8M467.8 1171.3V1193.4M467.8 1206.9V1229.1" fill="none" stroke="#ff0000" stroke-width="3.4"/>
<path d="M590 1193.2H604M590 1249H604M597 1193.2V1214.4M597 1227.9V1249" fill="none" stroke="#ff0000" stroke-width="3.4"/>
<path d="M719.1 1227.1H733.1M719.1 1280.9H733.1M726.1 1227.1V1247.2M726.1 1260.7V1280.9" fill="none" stroke="#ff0000" stroke-width="3.4"/>
<path d="M848.2 1249.5H862.2M848.2 1300.3H862.2M855.2 1249.5V1268.2M855.2 1281.7V1300.3" fill="none" stroke="#ff0000" stroke-width="3.4"/>
<path d="M977.3 1274.9H991.3M977.3 1324.7H991.3M984.3 1274.9V1293.1M984.3 1306.6V1324.7" fill="none" stroke="#ff0000" stroke-width="3.4"/>
<path d="M1171 1295.3H1185M1171 1342.2H1185M1178 1295.3V1312M1178 1325.5V1342.2" fill="none" stroke="#ff0000" stroke-width="3.4"/>
<circle cx="209.6" cy="1169.3" r="6.8" fill="none" stroke="#ff5a5a" stroke-width="1.8"/>
<circle cx="338.7" cy="1175.3" r="6.8" fill="none" stroke="#ff5a5a" stroke-width="1.8"/>
<circle cx="467.8" cy="1200.2" r="6.8" fill="none" stroke="#ff5a5a" stroke-width="1.8"/>
<circle cx="597" cy="1221.1" r="6.8" fill="none" stroke="#ff5a5a" stroke-width="1.8"/>
<circle cx="726.1" cy="1254" r="6.8" fill="none" stroke="#ff5a5a" stroke-width="1.8"/>
<circle cx="855.2" cy="1274.9" r="6.8" fill="none" stroke="#ff5a5a" stroke-width="1.8"/>
<circle cx="984.3" cy="1299.8" r="6.8" fill="none" stroke="#ff5a5a" stroke-width="1.8"/>
<circle cx="1178" cy="1318.8" r="6.8" fill="none" stroke="#ff5a5a" stroke-width="1.8"/>
</g>
<path d="M235.2 1713.6h5.2v5.2h-5.2zM255.6 1713.6h5.2v5.2h-5.2zM297.3 1713.6h5.2v5.2h-5.2zM317.1 1713.6h5.2v5.2h-5.2z" fill="#00ff00"/>
<rect x="271.2" y="1709" width="14.5" height="14.5" fill="none" stroke="#00ff00" stroke-width="1.8"/>
<path d="M235.3 1764.5H270M287 1764.5H322.2" stroke="#0000ff" stroke-width="3.5" fill="none"/>
<polygon points="278.5,1753.8 288.8,1769.8 268.2,1769.8" fill="none" stroke="#5a5aff" stroke-width="1.8" stroke-linejoin="miter"/>
<path d="M235.2 1809.7h5.2v5.2h-5.2zM255.6 1809.7h5.2v5.2h-5.2zM297.3 1809.7h5.2v5.2h-5.2zM317.1 1809.7h5.2v5.2h-5.2z" fill="#000000"/>
<polygon points="278.5,1823 288.8,1807 268.2,1807" fill="none" stroke="#5a5a5a" stroke-width="1.8" stroke-linejoin="miter"/>
<path d="M235.3 1860.4H270M287 1860.4H322.2" stroke="#ff0000" stroke-width="3.5" fill="none"/>
<circle cx="278.5" cy="1860.4" r="6.8" fill="none" stroke="#ff5a5a" stroke-width="1.8"/>
</g>
<path d="M24 20H1224L1228 24V986L1224 990H24L20 986V24ZM34 33V977H1214V33Z" fill="#0070c6" fill-rule="evenodd"/>
<path d="M1237 20H2439L2443 24V986L2439 990H1237L1233 986V24ZM1246 33V977H2429.5V33Z" fill="#1872ca" fill-rule="evenodd"/>
<path d="M24 1095H1226L1230 1099V2062L1226 2066H24L20 2062V1099ZM34 1108V2052H1216V1108Z" fill="#1872ca" fill-rule="evenodd"/>
</svg></body></html>
